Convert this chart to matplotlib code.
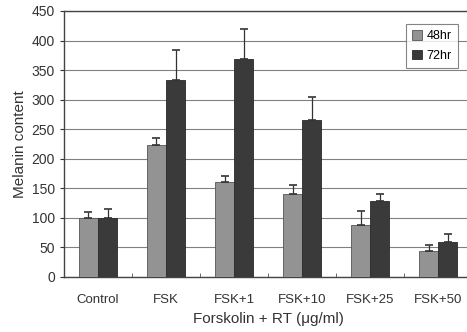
import numpy as np
import matplotlib.pyplot as plt

plt.rcParams['font.family'] = ['Liberation Sans', 'DejaVu Sans']

groups = ["Control", "FSK", "FSK+1", "FSK+10", "FSK+25", "FSK+50"]
melanin_48 = [100, 223, 160, 141, 88, 44]
err_48 = [9, 12, 11, 15, 24, 10]
melanin_72 = [100, 334, 369, 266, 128, 59]
err_72 = [15, 50, 50, 39, 12, 14]

x = np.arange(len(groups))
w = 0.28

fig = plt.figure(figsize=(4.67, 3.32), dpi=100)
ax = fig.add_axes([0.137, 0.166, 0.874, 0.801])

ax.bar(x - w/2, melanin_48, w, color="#939393", edgecolor="#555555", linewidth=0.6,
       yerr=[np.zeros(len(x)), err_48], capsize=3,
       error_kw=dict(ecolor="#333333", elinewidth=0.9, capthick=1.2),
       label="48hr", zorder=3)
ax.bar(x + w/2, melanin_72, w, color="#3a3a3a", edgecolor="#2a2a2a", linewidth=0.6,
       yerr=[np.zeros(len(x)), err_72], capsize=3,
       error_kw=dict(ecolor="#333333", elinewidth=0.9, capthick=1.2),
       label="72hr", zorder=3)

ax.set_xlim(-0.5, len(groups) - 0.5)
ax.set_ylim(0, 450)
ax.set_yticks(range(0, 451, 50))
ax.yaxis.grid(True, color="#808080", linewidth=0.8, zorder=0)
ax.set_xticks(x)
ax.set_xticklabels(groups, fontsize=9.5, color="#333333")
ax.set_xticks(np.arange(-0.5, len(groups)), minor=True)
ax.tick_params(axis="x", which="major", length=0, pad=12)
ax.tick_params(axis="x", which="minor", direction="in", length=3, color="#555555")
ax.tick_params(axis="y", length=3, labelsize=10, colors="#333333")

for s in ax.spines.values():
    s.set_color("#444444")
    s.set_linewidth(1.0)

ax.set_ylabel("Melanin content", fontsize=11, color="#333333", labelpad=3)
ax.set_xlabel("Forskolin + RT (\u03bcg/ml)", fontsize=11, color="#333333", labelpad=5)

leg = ax.legend(loc="upper right", bbox_to_anchor=(0.98, 0.975), fontsize=9,
                frameon=True, fancybox=False, edgecolor="#666666",
                handlelength=0.8, handleheight=0.8, handletextpad=0.3,
                borderpad=0.5, labelspacing=0.6)
leg.get_frame().set_linewidth(0.8)

fig.savefig("out.png", dpi=100)
